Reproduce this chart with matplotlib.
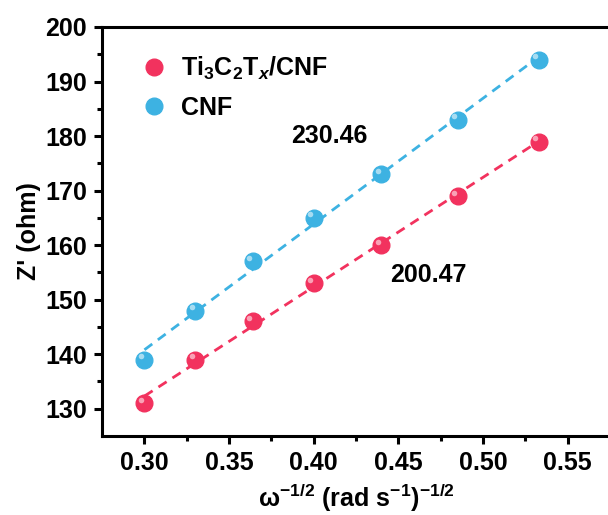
import numpy as np
import matplotlib
matplotlib.use("Agg")
import matplotlib.pyplot as plt
import matplotlib.transforms as mtransforms

# data
x = [0.300, 0.330, 0.364, 0.400, 0.440, 0.485, 0.533]
z_ti3c2tx = [131, 139, 146, 153, 160, 169, 179]
z_cnf = [139, 148, 157, 165, 173, 183, 194]
slope_labels = ["230.46", "200.47"]

red = "#F2325E"
blue = "#3DB2E2"

plt.rcParams["font.family"] = ["Liberation Sans", "DejaVu Sans"]
plt.rcParams["font.weight"] = "bold"
plt.rcParams["mathtext.fontset"] = "custom"
plt.rcParams["mathtext.rm"] = "Liberation Sans:bold"
plt.rcParams["mathtext.bf"] = "Liberation Sans:bold"
plt.rcParams["mathtext.it"] = "Liberation Sans:bold:italic"

fig = plt.figure(figsize=(6.08, 5.15), dpi=100)
ax = fig.add_axes([0.168, 0.1534, 0.835, 0.7942])


def sphere(ax, xs, ys, color, label):
    h, = ax.plot(xs, ys, "o", ms=12, color=color, mec=color, zorder=3, label=label)
    # little highlight to mimic the shaded balls
    off = mtransforms.offset_copy(ax.transData, fig=fig, x=-2.5, y=2.5, units="points")
    ax.plot(xs, ys, "o", ms=4, color="white", alpha=0.55, mec="none", transform=off, zorder=4)
    return h


for ys, c in [(z_ti3c2tx, red), (z_cnf, blue)]:
    k, b = np.polyfit(x, ys, 1)
    xx = np.array([x[0], x[-1]])
    ax.plot(xx, k * xx + b, ls=(0, (3.5, 2.5)), lw=2, color=c, zorder=2)

h1 = sphere(ax, x, z_ti3c2tx, red, r"Ti$_3$C$_2$T$_{\mathit{x}}$/CNF")
h2 = sphere(ax, x, z_cnf, blue, "CNF")

ax.text(0.4094, 180.0, slope_labels[0], fontsize=18, fontweight="bold", ha="center", va="center")
ax.text(0.4676, 154.6, slope_labels[1], fontsize=18, fontweight="bold", ha="center", va="center")

leg = ax.legend(handles=[h1, h2], loc="upper left", bbox_to_anchor=(0.043, 0.975),
                frameon=False, fontsize=18, handlelength=1.0, handletextpad=0.6,
                labelspacing=0.55, borderaxespad=0.3)

ax.set_xlim(0.275, 0.575)
ax.set_ylim(125, 200)
ax.set_xticks([0.30, 0.35, 0.40, 0.45, 0.50, 0.55])
ax.set_xticks(np.arange(0.325, 0.575, 0.05), minor=True)
ax.set_yticks(range(130, 201, 10))
ax.set_yticks(range(135, 200, 10), minor=True)

ax.set_xlabel(r"ω$^{-1/2}$ (rad s$^{-1}$)$^{-1/2}$", fontsize=18, fontweight="bold", labelpad=5)
ax.set_ylabel("Z' (ohm)", fontsize=18, fontweight="bold", labelpad=3)

for s in ax.spines.values():
    s.set_linewidth(2.2)
ax.tick_params(which="major", direction="out", length=6, width=2.2, labelsize=18, pad=5)
ax.tick_params(which="minor", direction="out", length=3.5, width=2.2)

fig.savefig("out.png", dpi=100)
